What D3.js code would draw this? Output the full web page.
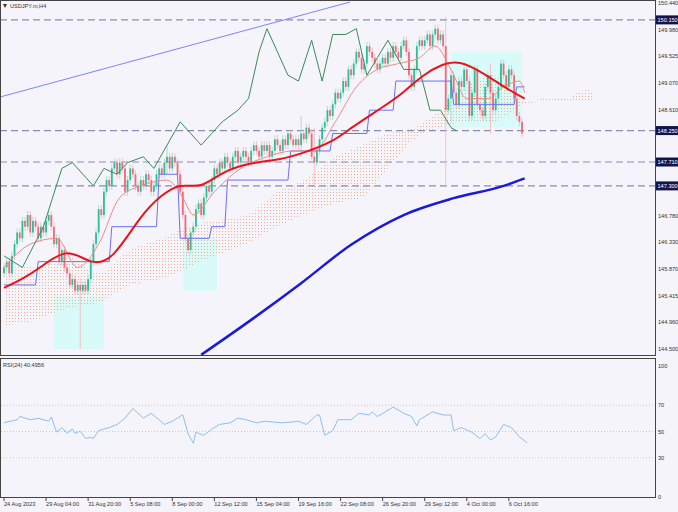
<!DOCTYPE html><html><head><meta charset="utf-8"><script src="https://cdn.jsdelivr.net/npm/d3@7"></script>
<style>body{margin:0;background:#fff}svg{display:block;font-family:"Liberation Sans",sans-serif}</style></head><body><svg id="c" width="678" height="512"></svg>
<script>
const closes=[145.9,146.0,145.8,146.1,146.3,146.5,146.4,146.7,146.6,146.8,146.5,146.7,146.6,146.4,146.6,146.5,
146.7,146.8,146.6,146.3,146.4,146.0,146.2,145.9,145.8,145.6,145.7,145.5,145.6,145.5,145.6,145.5,
145.7,146.0,146.3,146.5,146.9,146.8,147.2,147.4,147.3,147.6,147.7,147.5,147.7,147.6,147.2,147.4,
147.6,147.5,147.3,147.2,147.4,147.3,147.5,147.4,147.2,147.3,147.5,147.6,147.5,147.7,147.8,147.6,
147.8,147.7,147.5,147.2,146.8,146.4,146.2,146.5,146.6,146.9,147.0,146.8,147.1,147.3,147.2,147.4,
147.6,147.5,147.7,147.6,147.8,147.7,147.6,147.8,147.9,147.7,147.8,147.9,147.8,147.7,147.9,148.0,
147.9,147.8,148.0,147.9,148.0,147.8,147.9,148.1,148.0,147.9,148.1,148.0,148.2,148.1,148.0,148.1,
148.0,148.2,148.1,148.3,148.2,147.8,147.7,147.9,148.1,148.3,148.4,148.6,148.5,148.7,148.9,148.8,
148.9,149.1,149.0,149.3,149.2,149.4,149.6,149.5,149.3,149.4,149.7,149.6,149.5,149.4,149.3,149.4,
149.5,149.4,149.6,149.5,149.7,149.6,149.5,149.7,149.8,149.6,149.2,149.0,149.3,149.7,149.8,149.7,
149.8,149.9,149.7,149.9,150.0,149.8,149.9,149.7,148.6,148.8,149.2,148.9,148.7,149.1,149.0,149.3,
149.1,148.5,148.9,149.3,148.7,148.6,148.5,149.0,149.2,148.9,148.6,148.8,149.0,149.4,149.2,149.0,
149.3,149.2,148.8,148.5,148.4,148.2];
const firstOpen=145.8;
const wickBars=[29,62,113,118,168,170,185];
const wickHigh=[145.7,148.0,148.5,148.3,150.2,149.3,149.4];
const wickLow=[144.5,147.5,147.8,147.3,147.3,148.4,148.2];
const maBars=[0,7,14,24,33,41,52,60,67,75,83,94,105,113,125,132,144,152,159,167,173,182,190,198];
const maVals=[145.55,145.7,145.9,146.25,145.95,146.0,146.8,147.15,147.35,147.25,147.55,147.7,147.75,147.85,148.05,148.3,148.65,148.9,149.2,149.4,149.45,149.25,149.0,148.8];
const ma200Bars=[75,94,113,132,152,171,190,198];
const ma200Vals=[144.4,145.0,145.63,146.29,146.8,147.09,147.3,147.43];
const tenkanBars=[0,10,20,28,36,44,52,62,68,72,80,90,100,110,118,126,134,142,150,158,164,170,176,184,190,196,198];
const tenkanVals=[145.9,146.3,146.4,145.9,146.3,147.1,147.3,147.4,147.1,146.8,147.2,147.6,147.8,147.9,147.9,148.4,149.0,149.3,149.4,149.5,149.7,149.3,148.8,148.8,149.0,149.1,148.9];
const kijunBars=[0,12,13,40,41,58,59,66,67,78,79,84,85,108,109,124,125,138,139,148,149,170,171,194,195,198];
const kijunVals=[145.6,145.6,146.0,146.0,146.6,146.6,147.5,147.5,146.4,146.4,146.6,146.6,147.4,147.4,147.9,147.9,148.2,148.2,148.6,148.6,149.1,149.1,148.7,148.7,149.0,149.0];
const chikouBars=[0,7,15,22,26,30,34,38,43,47,53,57,62,67,71,75,79,83,89,93,97,100,104,108,112,117,121,125,130,134,138,142,146,152,158,162,166,170,172];
const chikouVals=[146.1,145.9,146.6,147.6,147.7,147.5,147.3,147.6,147.5,147.7,147.8,147.6,148.0,148.4,148.2,148.0,148.2,148.4,148.6,148.8,149.6,150.0,149.6,149.2,149.1,149.8,149.1,149.9,149.9,150.0,149.2,149.5,149.8,149.3,149.3,148.6,148.6,148.3,148.25];
const cloudBars=[0,12,24,36,48,60,70,80,92,104,114,126,136,146,156,166,176,186,198,206,214,218,222,224];
const spanA=[146.0,145.9,146.1,145.8,146.2,146.4,146.6,146.7,146.8,147.2,147.4,147.8,148.0,148.2,148.3,148.6,149.0,149.2,148.75,148.8,148.8,148.9,148.95,148.9];
const spanB=[144.9,145.0,145.2,145.3,145.6,145.7,145.9,146.1,146.3,146.6,146.8,147.0,147.1,147.6,148.1,148.3,148.4,148.4,148.7,148.75,148.75,148.75,148.75,148.75];
const boxes=[[19,38,145.4,144.5],[68,81,146.4,145.5],[170,197,149.6,148.3]];
const rsiBars=[0,5,6,10,13,17,18,20,22,24,26,27,29,31,33,34,36,40,43,46,49,53,56,61,64,68,70,72,73,76,79,82,86,89,92,96,99,106,112,115,119,120,122,125,127,132,135,139,140,142,145,148,152,155,157,158,163,167,170,171,174,178,181,183,185,187,190,193,196,199];
const rsiVals=[56.7,59,61.5,59,60,58,61,49.5,53,48.6,52,48.6,50.2,44.7,45.5,44.7,50.7,53,55.4,60.2,67.6,60.2,63.9,55.4,57.8,62.8,48.3,41,49.5,47,51.8,55.4,56.6,60.2,59,56.6,57.8,56.6,57.8,55.4,62.6,62.6,47.1,50.7,59,59,63.9,62.6,65,61.4,65,68.7,63.9,61.4,54.2,59,65,62.6,62.6,50.7,53,49.4,44.6,48.3,43.5,45.9,55.4,53,45.9,41.3];
const priceTicks=[150.440,149.980,149.525,149.070,148.610,146.780,146.330,145.870,145.415,144.960,144.500];
const levels=[150.150,148.250,147.710,147.300];
const timeLabels=["24 Aug 2023","29 Aug 04:00","31 Aug 20:00","5 Sep 08:00","8 Sep 00:00","12 Sep 12:00","15 Sep 04:00","19 Sep 16:00","22 Sep 08:00","26 Sep 20:00","29 Sep 12:00","4 Oct 00:00","6 Oct 16:00"];
const rsiTicks=[100,70,50,30,0];

const svg=d3.select("#c");
const x=d3.scaleLinear().domain([0,197]).range([4,522]);
const y=d3.scaleLinear().domain([144.5,150.44]).range([349,3]);
const yr=d3.scaleLinear().domain([0,100]).range([497,366]);
svg.append("rect").attr("width",678).attr("height",512).attr("fill","#f5f4fa");
const defs=svg.append("defs");
const pat=defs.append("pattern").attr("id","dots").attr("width",3).attr("height",3).attr("patternUnits","userSpaceOnUse");
pat.append("rect").attr("width",1).attr("height",1).attr("fill","#f0a070");
const main=svg.append("g");
main.append("clipPath").attr("id","clipm").append("rect").attr("x",1).attr("y",1).attr("width",654).attr("height",354);
const g=main.append("g").attr("clip-path","url(#clipm)");
boxes.forEach(b=>g.append("rect").attr("x",x(b[0])).attr("width",x(b[1])-x(b[0])).attr("y",y(b[2])).attr("height",y(b[3])-y(b[2])).attr("fill","#d8fbfa"));
const cl=cloudBars.map((b,i)=>({b,a:spanA[i],s:spanB[i]}));
g.append("path").datum(cl).attr("fill","url(#dots)").attr("opacity",0.8).attr("d",d3.area().x(d=>x(d.b)).y0(d=>y(d.a)).y1(d=>y(d.s)).curve(d3.curveMonotoneX));
g.append("line").attr("x1",0).attr("y1",97).attr("x2",350).attr("y2",2).attr("stroke","#6666ee").attr("stroke-width",0.8);
levels.forEach(l=>g.append("line").attr("x1",0).attr("x2",655).attr("y1",y(l)).attr("y2",y(l)).attr("stroke","#8a8ab8").attr("stroke-width",1.2).attr("stroke-dasharray","7,4"));
let prev=firstOpen;
const bars=closes.map((c,i)=>{const o=prev;prev=c;const w=wickBars.indexOf(i);
return {i,o,c,h:w>=0?wickHigh[w]:Math.max(o,c)+0.07,l:w>=0?wickLow[w]:Math.min(o,c)-0.07};});
const cg=g.append("g");
bars.forEach(d=>{const col=d.c>=d.o?"#2bbf96":"#f06a78";
cg.append("line").attr("x1",x(d.i)).attr("x2",x(d.i)).attr("y1",y(d.h)).attr("y2",y(d.l)).attr("stroke",d.c>=d.o?"#9ad9c6":"#f7b4bb").attr("stroke-width",0.8);
cg.append("rect").attr("x",x(d.i)-0.9).attr("width",1.8).attr("y",y(Math.max(d.o,d.c))).attr("height",Math.max(1,Math.abs(y(d.o)-y(d.c)))).attr("fill",col);});
const ln=(bs,vs,col,w,curve)=>g.append("path").datum(bs.map((b,i)=>[b,vs[i]])).attr("fill","none").attr("stroke",col).attr("stroke-width",w).attr("d",d3.line().x(d=>x(d[0])).y(d=>y(d[1])).curve(curve||d3.curveLinear));
ln(kijunBars,kijunVals,"#6f6ff0",1);
ln(tenkanBars,tenkanVals,"#f08a8a",1,d3.curveMonotoneX);
ln(chikouBars,chikouVals,"#3a8a5a",1);
ln(maBars,maVals,"#e8141c",2,d3.curveBasis);
ln(ma200Bars,ma200Vals,"#1a1ad8",2.5,d3.curveMonotoneX);
svg.append("rect").attr("x",0.5).attr("y",0.5).attr("width",655).attr("height",355).attr("fill","none").attr("stroke","#444");
svg.append("rect").attr("x",0.5).attr("y",358.5).attr("width",655).attr("height",139).attr("fill","none").attr("stroke","#444");
const fs=5.6;
priceTicks.forEach(p=>svg.append("text").attr("x",658).attr("y",y(p)+2).attr("font-size",fs).attr("fill","#333").text(p.toFixed(3)));
levels.forEach(l=>{svg.append("rect").attr("x",656).attr("y",y(l)-4.5).attr("width",22).attr("height",9).attr("fill","#14144a");
svg.append("text").attr("x",657.5).attr("y",y(l)+2).attr("font-size",fs).attr("fill","#fff").text(l.toFixed(3));});
svg.append("text").attr("x",10).attr("y",8).attr("font-size",fs).attr("fill","#333").text("USDJPY.m,H4");
svg.append("path").attr("d","M3,4 L7,4 L5,8Z").attr("fill","#333");
rsiTicks.forEach(t=>{svg.append("text").attr("x",658).attr("y",yr(t)+2).attr("font-size",fs).attr("fill","#333").text(t);
if(t>0&&t<100)svg.append("line").attr("x1",1).attr("x2",655).attr("y1",yr(t)).attr("y2",yr(t)).attr("stroke","#c8c8d4").attr("stroke-dasharray","1,2");});
svg.append("path").datum(rsiBars.map((b,i)=>[b,rsiVals[i]])).attr("fill","none").attr("stroke","#8cc0f0").attr("stroke-width",1).attr("d",d3.line().x(d=>x(d[0])).y(d=>yr(d[1])));
svg.append("text").attr("x",3).attr("y",367).attr("font-size",fs).attr("fill","#333").text("RSI(24) 40.4956");
timeLabels.forEach((t,i)=>{const xx=x(i*16);svg.append("line").attr("x1",xx).attr("x2",xx).attr("y1",497).attr("y2",501).attr("stroke","#444");
svg.append("text").attr("x",xx).attr("y",506).attr("font-size",fs).attr("fill","#333").text(t);});
</script></body></html>
